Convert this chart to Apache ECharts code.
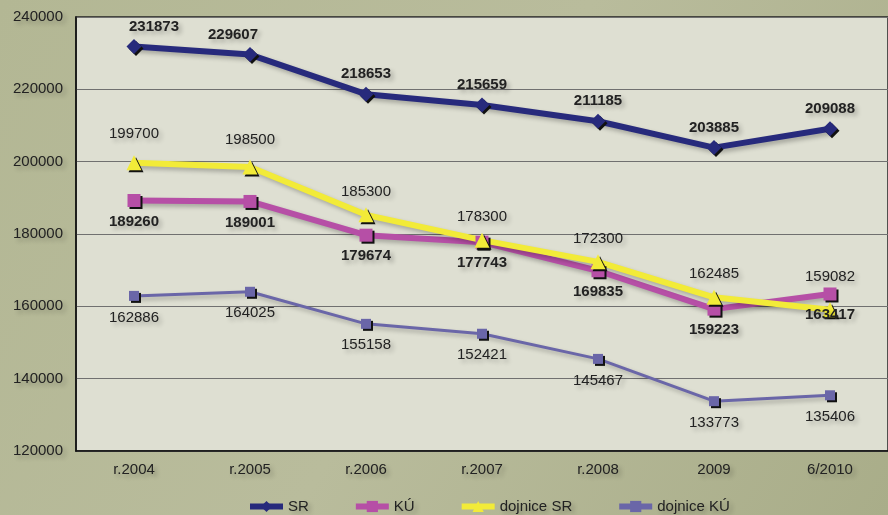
<!DOCTYPE html>
<html>
<head>
<meta charset="utf-8">
<script src="https://cdn.jsdelivr.net/npm/echarts@6/dist/echarts.min.js"></script>
<style>
  html, body { margin: 0; padding: 0; }
  #chart { width: 888px; height: 515px; }
</style>
</head>
<body>
<div id="chart"></div>
<script>
// kategorie a hodnoty
var categories = ["r.2004", "r.2005", "r.2006", "r.2007", "r.2008", "2009", "6/2010"];
var sr = [231873, 229607, 218653, 215659, 211185, 203885, 209088];
var ku = [189260, 189001, 179674, 177743, 169835, 159223, 163417];
var dojniceSR = [199700, 198500, 185300, 178300, 172300, 162485, 159082];
var dojniceKU = [162886, 164025, 155158, 152421, 145467, 133773, 135406];
var yTicks = [120000, 140000, 160000, 180000, 200000, 220000, 240000];

var shadowText = {
  textShadowColor: "rgba(0,0,0,0.25)",
  textShadowBlur: 4,
  textShadowOffsetX: 3,
  textShadowOffsetY: 3
};

// posun popisku u nekterych bodu
function withNudge(values, nudges) {
  return values.map(function (v, i) {
    if (nudges[i]) {
      return { value: v, label: { offset: nudges[i] } };
    }
    return v;
  });
}

function serie(name, data, color, symbol, size, width, pos, dist, bold) {
  return {
    name: name,
    type: "line",
    data: data,
    symbol: symbol,
    symbolSize: size,
    lineStyle: {
      color: color,
      width: width,
      shadowColor: "rgba(0,0,0,0.25)",
      shadowBlur: 4,
      shadowOffsetX: 3,
      shadowOffsetY: 3
    },
    itemStyle: {
      color: color,
      shadowColor: "#111",
      shadowBlur: 0,
      shadowOffsetX: 2,
      shadowOffsetY: 2
    },
    label: Object.assign({
      show: true,
      position: pos,
      distance: dist,
      color: "#222",
      fontFamily: "Liberation Sans, Arial",
      fontSize: 15,
      fontWeight: bold ? "bold" : "normal"
    }, shadowText),
    emphasis: { disabled: true },
    animation: false
  };
}

var chart = echarts.init(document.getElementById("chart"));
chart.setOption({
  backgroundColor: {
    type: "linear", x: 0, y: 0, x2: 1, y2: 1,
    colorStops: [
      { offset: 0, color: "#b3b794" },
      { offset: 0.5, color: "#b9bc9c" },
      { offset: 1, color: "#a9ad89" }
    ]
  },
  grid: {
    left: 76,
    right: -7,
    top: 17,
    bottom: 64,
    show: true,
    backgroundColor: "#dedfd2",
    borderColor: "#222",
    borderWidth: 1.5
  },
  legend: {
    left: 242,
    top: 494,
    itemWidth: 33,
    itemHeight: 14,
    itemGap: 44,
    lineStyle: { width: 6, shadowBlur: 0, shadowOffsetX: 0, shadowOffsetY: 0 },
    itemStyle: { shadowBlur: 0, shadowOffsetX: 0, shadowOffsetY: 0 },
    textStyle: Object.assign({
      fontFamily: "Liberation Sans, Arial",
      fontSize: 15,
      color: "#222"
    }, shadowText),
    data: ["SR", "KÚ", "dojnice SR", "dojnice KÚ"]
  },
  xAxis: {
    type: "category",
    data: categories,
    boundaryGap: true,
    axisLine: { lineStyle: { color: "#111", width: 1.5 } },
    axisTick: { show: false },
    axisLabel: Object.assign({
      margin: 11,
      fontFamily: "Liberation Sans, Arial",
      fontSize: 15,
      color: "#222"
    }, shadowText)
  },
  yAxis: {
    type: "value",
    min: yTicks[0],
    max: yTicks[yTicks.length - 1],
    interval: yTicks[1] - yTicks[0],
    axisLine: { show: true, lineStyle: { color: "#111", width: 1.5 } },
    axisTick: { show: false },
    splitLine: { lineStyle: { color: "#707070", width: 1.2 } },
    axisLabel: Object.assign({
      margin: 13,
      fontFamily: "Liberation Sans, Arial",
      fontSize: 15,
      color: "#222",
      formatter: function (v) { return String(v); }
    }, shadowText)
  },
  series: [
    serie("SR", withNudge(sr, { 0: [20, 0], 1: [-17, 0] }), "#272a7c", "diamond", 15, 6, "top", 5, true),
    serie("KÚ", ku, "#b64fa6", "rect", 13, 6, "bottom", 7, true),
    serie("dojnice SR", withNudge(dojniceSR, { 0: [0, -6], 1: [0, -4], 6: [0, -10] }), "#f2eb38", "triangle", 15, 6, "top", 8, false),
    serie("dojnice KÚ", dojniceKU, "#6a66a8", "rect", 10, 3, "bottom", 9, false)
  ]
});
</script>
</body>
</html>
